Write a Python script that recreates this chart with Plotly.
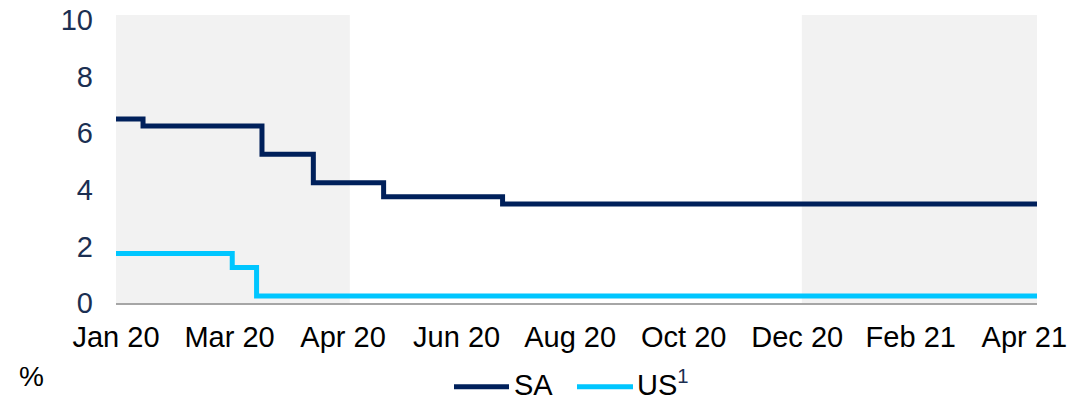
import plotly.graph_objects as go

# ---- data (x = business-day index from 1 Jan 2020, ticks every 42 days) ----
tick_pos = [0, 42, 84, 126, 168, 210, 252, 294, 336]
tick_labels = ["Jan 20", "Mar 20", "Apr 20", "Jun 20", "Aug 20",
               "Oct 20", "Dec 20", "Feb 21", "Apr 21"]

sa_x = [0, 10, 54, 73, 99, 143, 340.7]
sa_y = [6.5, 6.25, 5.25, 4.25, 3.75, 3.5, 3.5]

us_x = [0, 43, 52, 340.7]
us_y = [1.75, 1.25, 0.25, 0.25]

shade_start = [0, 253.7]
shade_end = [86.5, 340.7]

X_MAX = 340.7
Y_MAX = 10.17

SA_COLOR = "#00205B"
US_COLOR = "#00C6FF"
NAVY_TEXT = "#1B2F52"
FONT = "Liberation Sans, Arial, sans-serif"

# ---- layout geometry (pixels) ----
W, H = 1068, 400
L, R, T, B = 116, 31, 15, 97
PW = W - L - R
PH = H - T - B


def px_x(p):
    return (p - L) / PW


def px_y(p):
    return (H - B - p) / PH


fig = go.Figure()
fig.add_trace(go.Scatter(x=sa_x, y=sa_y, name="SA", mode="lines",
                         line=dict(color=SA_COLOR, width=5, shape="hv"),
                         showlegend=False))
fig.add_trace(go.Scatter(x=us_x, y=us_y, name="US1", mode="lines",
                         line=dict(color=US_COLOR, width=5, shape="hv"),
                         showlegend=False))

shapes = []
for s, e in zip(shade_start, shade_end):
    shapes.append(dict(type="rect", xref="x", yref="paper", x0=s, x1=e,
                       y0=0, y1=1, fillcolor="#F2F2F2", line=dict(width=0),
                       layer="below"))

# legend (drawn manually)
leg_y = px_y(386.7)
shapes.append(dict(type="line", xref="paper", yref="paper",
                   x0=px_x(454), x1=px_x(509), y0=leg_y, y1=leg_y,
                   line=dict(color=SA_COLOR, width=5)))
shapes.append(dict(type="line", xref="paper", yref="paper",
                   x0=px_x(577), x1=px_x(633), y0=leg_y, y1=leg_y,
                   line=dict(color=US_COLOR, width=5)))

annotations = [
    dict(text="SA", xref="paper", yref="paper", x=px_x(512), y=px_y(403),
         xanchor="left", yanchor="bottom", showarrow=False,
         font=dict(family=FONT, size=29, color="#000000")),
    dict(text="US<sup><span style='color:%s'>1</span></sup>" % NAVY_TEXT,
         xref="paper", yref="paper", x=px_x(635), y=px_y(403),
         xanchor="left", yanchor="bottom", showarrow=False,
         font=dict(family=FONT, size=29, color="#000000")),
    dict(text="%", xref="paper", yref="paper", x=px_x(17), y=px_y(376),
         xanchor="left", yanchor="middle", showarrow=False,
         font=dict(family=FONT, size=28, color="#000000")),
]

fig.update_layout(
    width=W, height=H,
    margin=dict(l=L, r=R, t=T, b=B),
    plot_bgcolor="white", paper_bgcolor="white",
    font=dict(family=FONT, size=29, color="#000000"),
    shapes=shapes, annotations=annotations,
    showlegend=False,
    xaxis=dict(range=[0, X_MAX], tickmode="array", tickvals=tick_pos,
               ticktext=tick_labels, showgrid=False, zeroline=False,
               showline=True, linecolor="#A6A6A6", linewidth=2,
               ticks="", ticklabelstandoff=7, automargin=False,
               tickfont=dict(family=FONT, size=29, color="#000000")),
    yaxis=dict(range=[0, Y_MAX], tickmode="array",
               tickvals=[0, 2, 4, 6, 8, 10], showgrid=False, zeroline=False,
               showline=False, ticks="", ticklabelstandoff=22,
               automargin=False,
               tickfont=dict(family=FONT, size=29, color=NAVY_TEXT)),
)

fig.write_html("out.html",
               config={"displayModeBar": False},
               post_script="document.body.style.margin='0px';"
                           "document.body.style.overflow='hidden';")
